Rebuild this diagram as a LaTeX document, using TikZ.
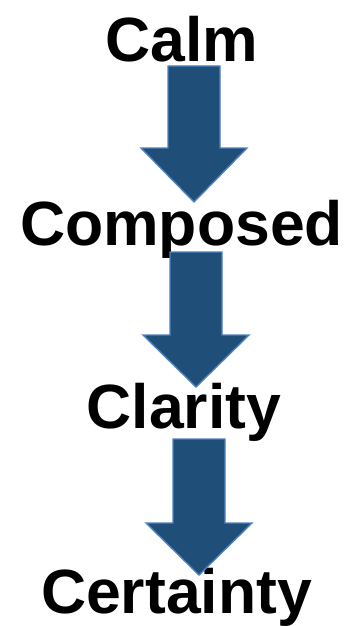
\documentclass[tikz,border=0pt]{standalone}
\usepackage{fontspec}
\setmainfont{Liberation Sans}
\usetikzlibrary{positioning}
\definecolor{arrowblue}{HTML}{1F4E79}
\definecolor{arrowedge}{HTML}{4F81BD}
\tikzset{
  word/.style={font=\bfseries\fontsize{62.5}{62.5}\selectfont, anchor=base, inner sep=0pt},
  blockarrow/.style={fill=arrowblue, draw=arrowedge, line width=1.4pt, line join=miter}
}
\begin{document}
\begin{tikzpicture}[x=1pt, y=-1pt]
  \useasboundingbox (0,0) rectangle (353,626);
  % the four steps
  \node[word] (calm) at (182,61) {Calm};
  \node[word] (composed) at (181.5,245) {Composed};
  \node[word] (clarity) at (184,428) {Clarity};
  \node[word] (certainty) at (176.5,613) {Certainty};
  % block arrows: centre x / top / head start / tip
  \foreach \cx/\top/\hd/\tip in {194/66/148/202, 196/252/335/387, 199/439/523/575}
    \draw[blockarrow] (\cx-26,\top) -- (\cx+26,\top) -- (\cx+26,\hd) -- (\cx+53,\hd)
      -- (\cx,\tip) -- (\cx-53,\hd) -- (\cx-26,\hd) -- cycle;
\end{tikzpicture}
\end{document}
